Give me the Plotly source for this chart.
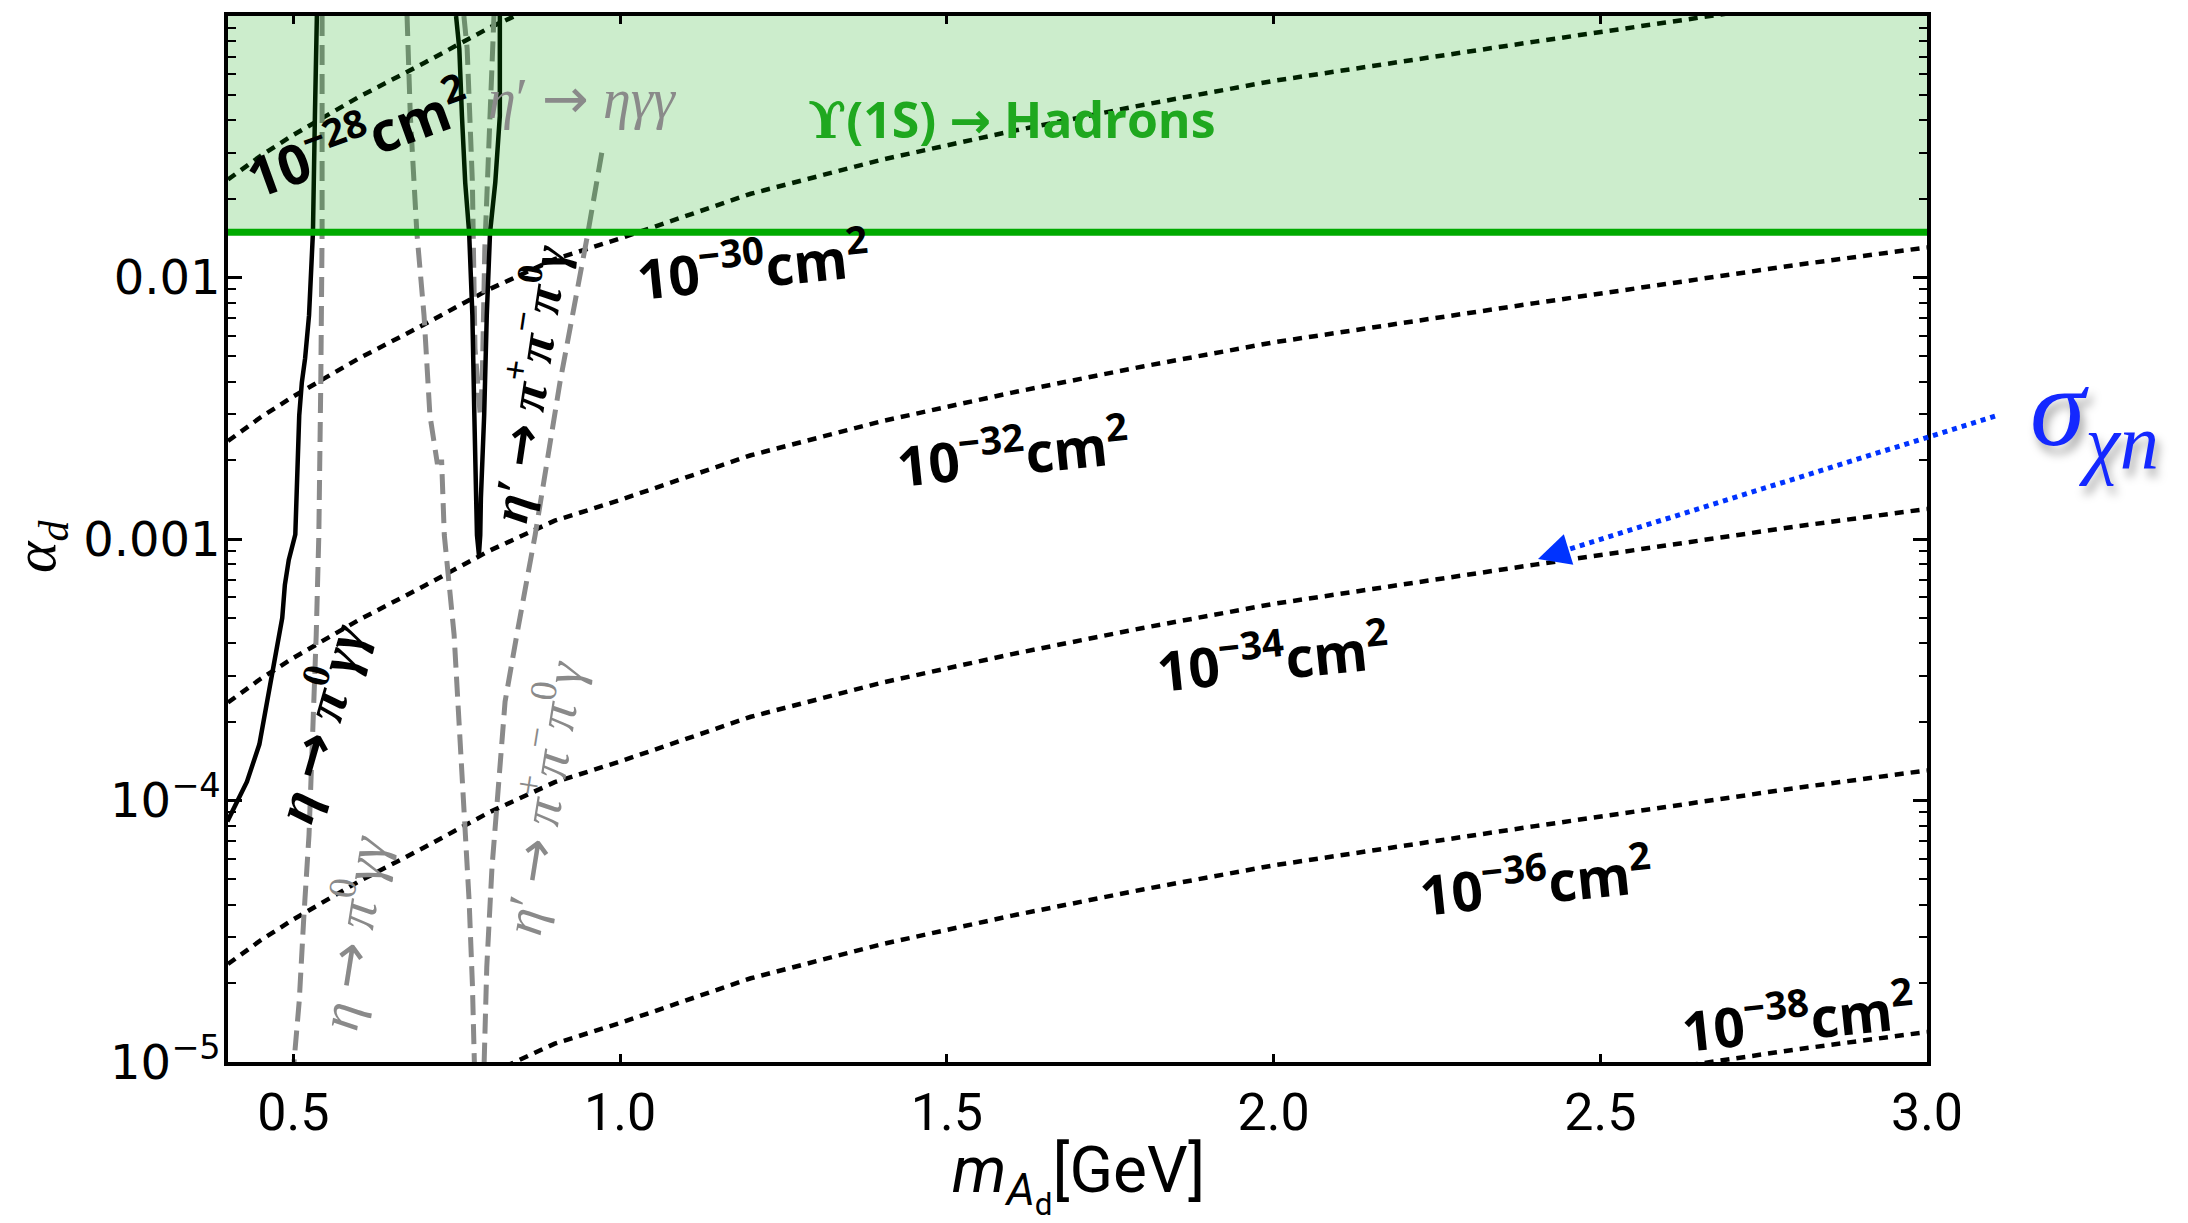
import plotly.graph_objects as go

# ---------------- data ----------------
m_grid = [0.40, 0.45, 0.50, 0.60, 0.70, 0.80, 0.90, 1.00, 1.20, 1.40,
          1.60, 1.80, 2.00, 2.20, 2.40, 2.60, 2.80, 3.00]

sigma_28 = [2.37e-2, 2.92e-2, 3.51e-2, 4.90e-2, 6.61e-2, 9.02e-2, 0.1175, 0.141, 0.209, 0.282,
            0.363, 0.457, 0.565, 0.673, 0.798, 0.944, 1.117, 1.303]
sigma_30 = [2.37e-3, 2.92e-3, 3.51e-3, 4.90e-3, 6.61e-3, 9.02e-3, 1.175e-2, 1.41e-2, 2.09e-2, 2.82e-2,
            3.63e-2, 4.57e-2, 5.65e-2, 6.73e-2, 7.98e-2, 9.44e-2, 0.1117, 0.1303]
sigma_32 = [2.37e-4, 2.92e-4, 3.51e-4, 4.90e-4, 6.61e-4, 9.02e-4, 1.175e-3, 1.41e-3, 2.09e-3, 2.82e-3,
            3.63e-3, 4.57e-3, 5.65e-3, 6.73e-3, 7.98e-3, 9.44e-3, 1.117e-2, 1.303e-2]
sigma_34 = [2.37e-5, 2.92e-5, 3.51e-5, 4.90e-5, 6.61e-5, 9.02e-5, 1.175e-4, 1.41e-4, 2.09e-4, 2.82e-4,
            3.63e-4, 4.57e-4, 5.65e-4, 6.73e-4, 7.98e-4, 9.44e-4, 1.117e-3, 1.303e-3]
sigma_36 = [2.37e-6, 2.92e-6, 3.51e-6, 4.90e-6, 6.61e-6, 9.02e-6, 1.175e-5, 1.41e-5, 2.09e-5, 2.82e-5,
            3.63e-5, 4.57e-5, 5.65e-5, 6.73e-5, 7.98e-5, 9.44e-5, 1.117e-4, 1.303e-4]
sigma_38 = [2.37e-7, 2.92e-7, 3.51e-7, 4.90e-7, 6.61e-7, 9.02e-7, 1.175e-6, 1.41e-6, 2.09e-6, 2.82e-6,
            3.63e-6, 4.57e-6, 5.65e-6, 6.73e-6, 7.98e-6, 9.44e-6, 1.117e-5, 1.303e-5]

# black solid: eta -> pi0 gamma gamma
eta_black_m = [0.399, 0.414, 0.429, 0.448, 0.460, 0.467, 0.475, 0.483, 0.487, 0.493,
               0.503, 0.509, 0.513, 0.518, 0.524, 0.530, 0.533, 0.536]
eta_black_a = [8.32e-5, 9.9e-5, 1.18e-4, 1.64e-4, 2.39e-4, 3.03e-4, 3.94e-4, 4.99e-4, 6.67e-4, 8.31e-4,
               1.04e-3, 2.97e-3, 3.97e-3, 4.91e-3, 7.16e-3, 1.49e-2, 4.15e-2, 0.1]

# black solid: eta' -> pi+ pi- pi0 gamma (narrow V)
etap_black_m = [0.749, 0.754, 0.758, 0.763, 0.769, 0.774, 0.777, 0.781, 0.784, 0.786,
                0.787, 0.792, 0.796, 0.801, 0.809, 0.816, 0.816]
etap_black_a = [0.1, 0.0748, 0.0415, 0.02307, 0.01486, 7.16e-3, 2.97e-3, 1.035e-3, 8.69e-4, 1.035e-3,
                1.43e-3, 2.97e-3, 7.16e-3, 0.01486, 0.02307, 0.0415, 0.1]

# gray dashed: eta -> pi0 gamma gamma
eta_gray_m = [0.544, 0.544, 0.542, 0.539, 0.535, 0.530, 0.524, 0.516, 0.509, 0.501]
eta_gray_a = [0.1, 0.01486, 3.97e-3, 1.035e-3, 4.305e-4, 1.786e-4, 7.41e-5, 3.573e-5, 1.71e-5, 1.0e-5]

# gray dashed: left edge of eta' band
etap_gray_left_m = [0.674, 0.679, 0.689, 0.700, 0.709, 0.720, 0.727, 0.731, 0.746, 0.755,
                    0.763, 0.769, 0.774, 0.777]
etap_gray_left_a = [0.1, 0.0415, 0.01486, 7.16e-3, 2.97e-3, 1.968e-3, 1.968e-3, 1.035e-3, 4.305e-4, 1.786e-4,
                    8.61e-5, 4.12e-5, 1.986e-5, 1.0e-5]

# gray dashed: right edge of eta' band
etap_gray_right_m = [0.972, 0.950, 0.908, 0.870, 0.842, 0.824, 0.812, 0.804, 0.796, 0.792]
etap_gray_right_a = [0.03, 0.01445, 3.97e-3, 1.035e-3, 4.305e-4, 2.388e-4, 9.91e-5, 5.55e-5, 2.307e-5, 1.0e-5]

# gray dashed: eta' -> eta gamma gamma (narrow V)
etap_eta_gray_m = [0.761, 0.766, 0.774, 0.778, 0.786, 0.789, 0.793, 0.801, 0.807]
etap_eta_gray_a = [0.1, 0.0748, 0.02307, 5.36e-3, 2.97e-3, 3.97e-3, 0.01291, 0.0415, 0.1]

# Upsilon(1S) -> hadrons bound
upsilon_m = [0.4, 3.0]
upsilon_limit = [0.0149, 0.0149]
upsilon_top = [0.1, 0.1]

x_tickvals = [0.5, 1.0, 1.5, 2.0, 2.5, 3.0]
x_ticktext = ["0.5", "1.0", "1.5", "2.0", "2.5", "3.0"]
y_tickvals = [1e-5, 1e-4, 1e-3, 1e-2]
y_ticktext = ["10<sup>\u22125</sup>", "10<sup>\u22124</sup>", "0.001", "0.01"]

# ---------------- figure ----------------
W, H = 2188, 1223
L_M, R_M, T_M, B_M = 228, 261, 14, 161

fig = go.Figure()

dot_line = dict(color="black", width=4.5, dash="9px,7px")
for ys in [sigma_28, sigma_30, sigma_32, sigma_34, sigma_36, sigma_38]:
    fig.add_trace(go.Scatter(x=m_grid, y=ys, mode="lines", line=dot_line,
                             hoverinfo="skip", showlegend=False))

gray_line = dict(color="#8a8a8a", width=5, dash="20px,9px")
for xs, ys in [(eta_gray_m, eta_gray_a), (etap_gray_left_m, etap_gray_left_a),
               (etap_gray_right_m, etap_gray_right_a), (etap_eta_gray_m, etap_eta_gray_a)]:
    fig.add_trace(go.Scatter(x=xs, y=ys, mode="lines", line=gray_line,
                             hoverinfo="skip", showlegend=False))

black_line = dict(color="black", width=4.5)
for xs, ys in [(eta_black_m, eta_black_a), (etap_black_m, etap_black_a)]:
    fig.add_trace(go.Scatter(x=xs, y=ys, mode="lines", line=black_line,
                             hoverinfo="skip", showlegend=False))

# green excluded region (drawn on top, translucent)
fig.add_trace(go.Scatter(x=upsilon_m + upsilon_m[::-1], y=upsilon_limit + upsilon_top[::-1],
                         mode="lines", fill="toself", fillcolor="rgba(0,165,0,0.2)",
                         line=dict(width=0), hoverinfo="skip", showlegend=False))
fig.add_trace(go.Scatter(x=upsilon_m, y=upsilon_limit, mode="lines",
                         line=dict(color="#00aa00", width=7), hoverinfo="skip", showlegend=False))

minor_vals = [k * 10.0 ** e for e in range(-5, -1) for k in range(2, 10)]

fig.update_layout(
    width=W, height=H,
    margin=dict(l=L_M, r=R_M, t=T_M, b=B_M),
    paper_bgcolor="white", plot_bgcolor="white",
    showlegend=False,
    xaxis=dict(range=[0.4, 3.0], showgrid=False, zeroline=False,
               showline=True, linecolor="black", linewidth=3.5, mirror="ticks",
               ticks="inside", ticklen=8, tickwidth=2.5, tickcolor="black",
               tickvals=x_tickvals, ticktext=x_ticktext,
               tickfont=dict(family="Liberation Sans Narrow, Roboto, Liberation Sans", size=52, color="black"),
               ticklabelstandoff=2),
    yaxis=dict(type="log", range=[-5, -1], showgrid=False, zeroline=False,
               showline=True, linecolor="black", linewidth=3.5, mirror="ticks",
               ticks="inside", ticklen=14, tickwidth=2.5, tickcolor="black",
               tickvals=y_tickvals, ticktext=y_ticktext,
               tickfont=dict(family="DejaVu Sans", size=48, color="black"),
               ticklabelstandoff=-6,
               minor=dict(tickvals=minor_vals, ticks="inside", ticklen=8, tickwidth=2,
                          tickcolor="black", showgrid=False)),
)

def px2paper(X, Y):
    return (X - L_M) / (W - L_M - R_M), (H - B_M - Y) / (H - T_M - B_M)

ARROW = "<span style=\"font-family:DejaVu Sans\">\u2192</span>"

ann = []
label_font = dict(family="Open Sans", size=55, color="black")
cs_labels = [
    ("\u221228", 357, 135, -20),
    ("\u221230", 752, 262, -6),
    ("\u221232", 1012, 450, -6),
    ("\u221234", 1272, 655, -6),
    ("\u221236", 1535, 880, -6),
    ("\u221238", 1797, 1016, -6),
]
for exp, X, Y, ang in cs_labels:
    px, py = px2paper(X, Y)
    ann.append(dict(text="<b>10<sup>%s</sup>cm<sup>2</sup></b>" % exp, x=px, y=py,
                    xref="paper", yref="paper", xanchor="center", yanchor="middle",
                    showarrow=False, textangle=ang, font=label_font))

greek_black = dict(family="Liberation Serif", size=56, color="black")
greek_gray = dict(family="Liberation Serif", size=56, color="#8a8a8a")
decay_labels = [
    ("<b><i>\u03b7</i> " + ARROW + " <i>\u03c0</i><sup>0</sup><i>\u03b3\u03b3</i></b>", 317, 722, -74, greek_black),
    ("<b><i>\u03b7</i>\u2032 " + ARROW + " <i>\u03c0</i><sup>+</sup><i>\u03c0</i><sup>\u2212</sup><i>\u03c0</i><sup>0</sup><i>\u03b3</i></b>", 527, 382, -81.5,
     dict(family="Liberation Serif", size=52, color="black")),
    ("<i>\u03b7</i> " + ARROW + " <i>\u03c0</i><sup>0</sup><i>\u03b3\u03b3</i>", 350, 932, -81, greek_gray),
    ("<i>\u03b7</i>\u2032 " + ARROW + " <i>\u03c0</i><sup>+</sup><i>\u03c0</i><sup>\u2212</sup><i>\u03c0</i><sup>0</sup><i>\u03b3</i>", 540, 797, -81,
     dict(family="Liberation Serif", size=54, color="#8a8a8a")),
    ("<i>\u03b7</i>\u2032 " + ARROW + " <i>\u03b7\u03b3\u03b3</i>", 582, 97, 0, greek_gray),
]
for txt, X, Y, ang, f in decay_labels:
    px, py = px2paper(X, Y)
    ann.append(dict(text=txt, x=px, y=py, xref="paper", yref="paper",
                    xanchor="center", yanchor="middle", showarrow=False,
                    textangle=ang, font=f))

px, py = px2paper(1012, 117)
ann.append(dict(text="<b><span style=\"font-family:DejaVu Serif\">\u03d2</span>(1S) " + ARROW + " Hadrons</b>",
                x=px, y=py, xref="paper", yref="paper",
                xanchor="center", yanchor="middle", showarrow=False,
                font=dict(family="Open Sans", size=50, color="#1fa81f")))

# axis titles
px, py = px2paper(1078, 1178)
ann.append(dict(text="<i>m</i><sub><i>A</i><sub>d</sub></sub>[GeV]", x=px, y=py, xref="paper", yref="paper",
                xanchor="center", yanchor="middle", showarrow=False,
                font=dict(family="Liberation Sans Narrow, Roboto, Liberation Sans", size=64, color="black")))
px, py = px2paper(40, 545)
ann.append(dict(text="<i>\u03b1</i><sub><i>d</i></sub>", x=px, y=py, xref="paper", yref="paper",
                xanchor="center", yanchor="middle", showarrow=False, textangle=-90,
                font=dict(family="Liberation Serif", size=60, color="black")))

# sigma_chi n label with shadow
px, py = px2paper(2094, 414)
ann.append(dict(text="<i>\u03c3</i><sub><i>\u03c7n</i></sub>", x=px, y=py, xref="paper", yref="paper",
                xanchor="center", yanchor="middle", showarrow=False,
                font=dict(family="Liberation Serif", size=112, color="#1428ff",
                          shadow="4px 8px 10px rgba(0,0,0,0.35)")))

# arrowhead
tx, ty = px2paper(1538, 558)
ann.append(dict(text="", x=tx, y=ty, xref="paper", yref="paper", showarrow=True,
                ax=29, ay=-9, arrowhead=2, arrowsize=1.6, arrowwidth=4,
                arrowcolor="#0033ff", standoff=0))

fig.update_layout(annotations=ann)

# blue dotted arrow shaft
sx, sy = px2paper(1995, 415)
ex, ey = px2paper(1560, 551)
fig.add_shape(type="line", xref="paper", yref="paper", x0=sx, y0=sy, x1=ex, y1=ey,
              line=dict(color="#0033ff", width=5, dash="5px,5px"))

fig.write_html("out.html")
